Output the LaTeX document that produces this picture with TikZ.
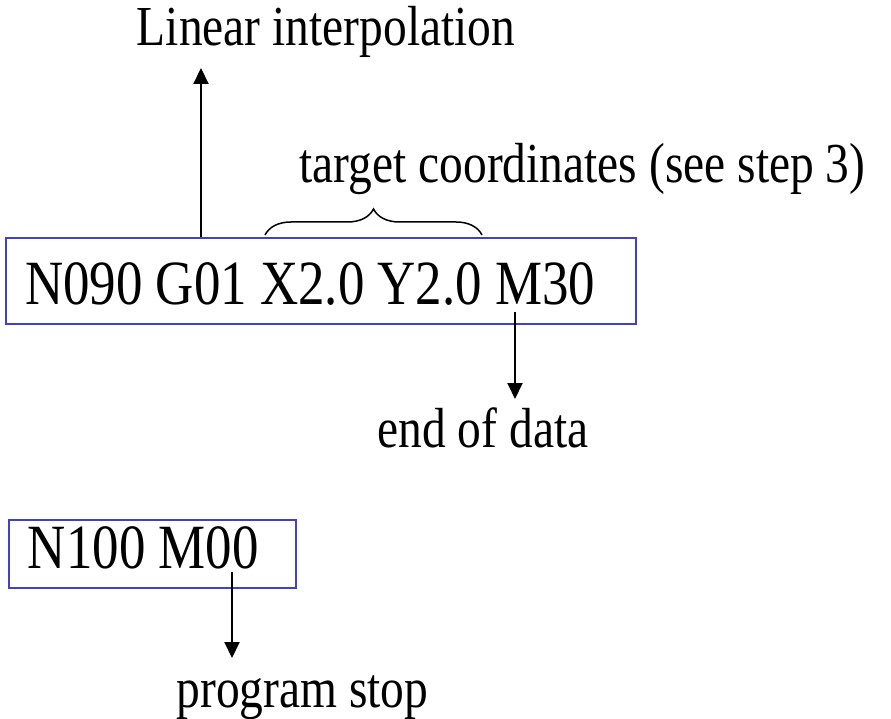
\documentclass[tikz,border=0pt]{standalone}
\usepackage{fontspec}
\setmainfont{Liberation Serif}[FakeStretch=0.84]
\usetikzlibrary{arrows.meta,decorations.pathreplacing}
\definecolor{boxblue}{RGB}{64,64,204}
\tikzset{
  codebox/.style={draw=boxblue, line width=2pt, inner sep=0pt, anchor=north west, font=\fontsize{63}{63}\selectfont},
  label/.style={inner sep=0pt, anchor=base, font=\fontsize{56.5}{56.5}\selectfont},
  arr/.style={line width=2pt, -{Triangle[length=16pt,width=15pt]}},
  bracestyle/.style={line width=1.5pt, decorate, decoration={brace, amplitude=26pt}}
}
\begin{document}
\begin{tikzpicture}[x=1pt,y=-1pt]
\useasboundingbox (0,0) rectangle (891,719);
\node[codebox, text height=66pt, text depth=20pt] (box1) at (5,237)
  {\makebox[630pt][l]{\hspace{19pt}N090 G01 X2.0 Y2.0 M30}};
\node[codebox, text height=48pt, text depth=20pt] (box2) at (8,519)
  {\makebox[287pt][l]{\hspace{19pt}N100 M00}};
\node[label] (lin) at (326,46) {Linear interpolation};
\node[label] (tgt) at (582.5,183) {target coordinates (see step 3)};
\node[label] (eod) at (483,447) {end of data};
\node[label] (ps) at (302.5,707) {program stop};
\coordinate (linTip) at (201,68);
\coordinate (m30) at (515,312);
\coordinate (eodTip) at (515,399);
\coordinate (m00) at (232,572);
\coordinate (psTip) at (232,658);
\coordinate (brL) at (265,235);
\coordinate (brR) at (482,235);
\draw[arr] (box1.north -| linTip) -- (linTip);
\draw[arr] (m30) -- (eodTip);
\draw[arr] (m00) -- (psTip);
\draw[bracestyle] (brL) -- (brR);
\end{tikzpicture}
\end{document}
